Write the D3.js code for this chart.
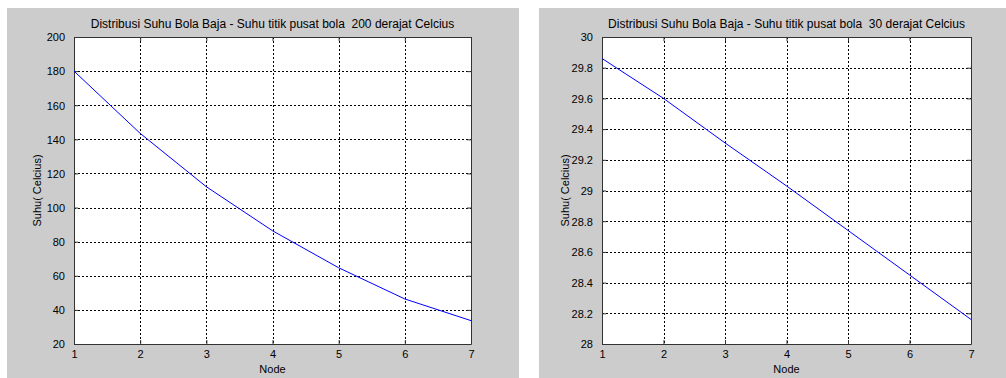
<!DOCTYPE html>
<html>
<head>
<meta charset="utf-8">
<script src="https://cdn.jsdelivr.net/npm/d3@7"></script>
<style>
  body { margin: 0; background: #fff; }
  text { font-family: "Liberation Sans", Arial, sans-serif; font-size: 11px; fill: #000; }
  text.title { font-size: 12px; white-space: pre; }
</style>
</head>
<body>
<div id="chart"></div>
<script>
// data
var nodes = [1, 2, 3, 4, 5, 6, 7];
var suhu200 = [180, 143.5, 112.2, 86.4, 64.7, 46.4, 33.7];
var suhu30 = [29.86, 29.60, 29.31, 29.03, 28.74, 28.45, 28.16];
var yTicks200 = [20, 40, 60, 80, 100, 120, 140, 160, 180, 200];
var yTicks30 = [28, 28.2, 28.4, 28.6, 28.8, 29, 29.2, 29.4, 29.6, 29.8, 30];
var title200 = "Distribusi Suhu Bola Baja - Suhu titik pusat bola  200 derajat Celcius";
var title30 = "Distribusi Suhu Bola Baja - Suhu titik pusat bola  30 derajat Celcius";

var svg = d3.select("#chart")
      .append("svg")
      .attr("width", 1006)
      .attr("height", 378);

drawPanel({bg: [7, 8, 512, 370], box: [74, 37, 397, 307]},
          suhu200, [20, 200], yTicks200, title200);
drawPanel({bg: [539, 8, 467, 370], box: [602, 37, 369, 307]},
          suhu30, [28, 30], yTicks30, title30);

function drawPanel(pos, values, yDom, yTickVals, title){
  var bx = pos.box[0], by = pos.box[1], bw = pos.box[2], bh = pos.box[3];

  svg.append("rect")
        .attr("x", pos.bg[0]).attr("y", pos.bg[1])
        .attr("width", pos.bg[2]).attr("height", pos.bg[3])
        .attr("fill", "#cccccc");

  svg.append("rect")
        .attr("x", bx).attr("y", by)
        .attr("width", bw).attr("height", bh)
        .attr("fill", "#fff");

  var x = d3.scaleLinear().domain([1, 7]).range([bx, bx + bw]);
  var y = d3.scaleLinear().domain(yDom).range([by + bh, by]);

  // grid
  var grid = svg.append("g").attr("class", "grid");
  grid.selectAll("line.gx")
        .data(nodes.slice(1, -1))
        .enter()
        .append("line")
        .attr("x1", function(d){ return Math.round(x(d)) + 0.5; })
        .attr("x2", function(d){ return Math.round(x(d)) + 0.5; })
        .attr("y1", by)
        .attr("y2", by + bh)
        .attr("stroke", "#000")
        .attr("stroke-dasharray", "2,2");
  grid.selectAll("line.gy")
        .data(yTickVals.slice(1, -1))
        .enter()
        .append("line")
        .attr("x1", bx)
        .attr("x2", bx + bw)
        .attr("y1", function(d){ return Math.round(y(d)) + 0.5; })
        .attr("y2", function(d){ return Math.round(y(d)) + 0.5; })
        .attr("stroke", "#000")
        .attr("stroke-dasharray", "2,2");

  // axes, ticks pointing inward on all four sides
  var bottom = svg.append("g")
        .attr("transform", "translate(0," + (by + bh) + ")")
        .call(d3.axisBottom(x).tickValues(nodes).tickSizeInner(-4).tickSizeOuter(0)
              .tickPadding(6).tickFormat(d3.format("d")));
  var top = svg.append("g")
        .attr("transform", "translate(0," + by + ")")
        .call(d3.axisTop(x).tickValues(nodes).tickSizeInner(-4).tickSizeOuter(0).tickFormat(""));
  var left = svg.append("g")
        .attr("transform", "translate(" + bx + ",0)")
        .call(d3.axisLeft(y).tickValues(yTickVals).tickSizeInner(-4).tickSizeOuter(0)
              .tickPadding(9).tickFormat(function(d){ return String(d); }));
  var right = svg.append("g")
        .attr("transform", "translate(" + (bx + bw) + ",0)")
        .call(d3.axisRight(y).tickValues(yTickVals).tickSizeInner(-4).tickSizeOuter(0).tickFormat(""));

  [bottom, top, left, right].forEach(function(g){
    g.select(".domain").attr("stroke", "#333");
    g.selectAll(".tick line").attr("stroke", "#333");
    g.selectAll("text").attr("font-family", null).attr("font-size", null).attr("fill", "#000");
  });
  left.selectAll(".tick text").attr("dy", "0.35em");

  // line
  var line = d3.line()
        .x(function(d, i){ return x(nodes[i]); })
        .y(function(d){ return y(d); });
  svg.append("path")
        .datum(values)
        .attr("d", line)
        .attr("fill", "none")
        .attr("stroke", "#0000ff")
        .attr("stroke-width", 1);

  // labels
  svg.append("text")
        .attr("class", "title")
        .attr("x", bx + bw / 2)
        .attr("y", 28)
        .attr("text-anchor", "middle")
        .text(title);
  svg.append("text")
        .attr("x", bx + bw / 2)
        .attr("y", 373)
        .attr("text-anchor", "middle")
        .text("Node");
  svg.append("text")
        .attr("transform", "translate(" + (bx - 37) + "," + (by + bh / 2) + ") rotate(-90)")
        .attr("text-anchor", "middle")
        .attr("dy", "0.35em")
        .text("Suhu( Celcius)");
}
</script>
</body>
</html>
